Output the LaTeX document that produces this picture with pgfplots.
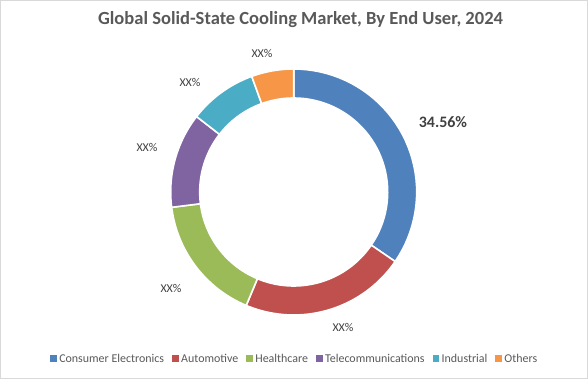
\documentclass[border=0pt]{standalone}
\usepackage{pgfplots}
\pgfplotsset{compat=1.18}
\usepackage{pgfplotstable}
\usepackage{fontspec}
\setmainfont{Carlito}
\definecolor{c0}{HTML}{4F81BD}
\definecolor{c1}{HTML}{C0504D}
\definecolor{c2}{HTML}{9BBB59}
\definecolor{c3}{HTML}{8064A2}
\definecolor{c4}{HTML}{4BACC6}
\definecolor{c5}{HTML}{F79646}
\definecolor{txt}{HTML}{595959}
\definecolor{lbl}{HTML}{404040}
\definecolor{frame}{HTML}{D9D9D9}

\pgfplotstableread[col sep=comma]{
idx,share,label
0,34.56,Consumer Electronics
1,21.75,Automotive
2,16.70,Healthcare
3,12.50,Telecommunications
4,8.95,Industrial
5,5.54,Others
}\shares

\begin{document}
\begin{tikzpicture}
\begin{axis}[
  width=588bp, height=379bp, scale only axis,
  xmin=0, xmax=588, ymin=0, ymax=379,
  hide axis, clip=false,
  legend columns=6,
  legend style={at={(axis cs:295,20)}, anchor=center, draw=none, fill=none,
    font=\fontsize{12}{14}\selectfont, text=txt,
    /tikz/every even column/.append style={column sep=5.5bp},
    nodes={inner sep=2.5bp}},
  legend image code/.code={\fill[#1,draw=none] (0bp,-3bp) rectangle (6.5bp,3.5bp);},
]
\def\cum{0}
\pgfplotsforeachungrouped \i in {0,...,5}{%
  \pgfplotstablegetelem{\i}{share}\of\shares
  \let\val\pgfplotsretval
  \pgfplotstablegetelem{\i}{label}\of\shares
  \let\lab\pgfplotsretval
  \pgfmathsetmacro\angA{90-3.6*\cum}%
  \pgfmathsetmacro\angD{-3.6*\val}%
  \edef\cmd{\noexpand\addplot[fill=c\i, draw=white, line width=1.6bp, samples at={0,...,82}]
    ({293.7+((x<=40||x>=82)?123:94)*cos((x<=40)?((\angA)+(\angD)*x/40):((x<=81)?((\angA)+(\angD)*(81-x)/40):(\angA)))},
     {187+((x<=40||x>=82)?123:94)*sin((x<=40)?((\angA)+(\angD)*x/40):((x<=81)?((\angA)+(\angD)*(81-x)/40):(\angA)))});
    \noexpand\addlegendentry{\lab}}%
  \cmd
  \pgfmathsetmacro\cum{\cum+\val}%
}
\draw[frame, line width=1bp] (axis cs:0.5,0.5) rectangle (axis cs:587.5,378.5);
\node[font=\bfseries\fontsize{18.6}{22}\selectfont, text=txt] at (axis cs:300.5,359) {Global Solid-State Cooling Market, By End User, 2024};
\node[font=\bfseries\fontsize{16}{18}\selectfont, text=lbl] at (axis cs:443,257) {34.56\%};
\begin{scope}[every node/.style={font=\fontsize{12}{14}\selectfont, text=lbl}]
\node at (axis cs:343,52) {XX\%};
\node at (axis cs:171,91) {XX\%};
\node at (axis cs:147,232) {XX\%};
\node at (axis cs:190,297) {XX\%};
\node at (axis cs:262,326) {XX\%};
\end{scope}
\end{axis}
\end{tikzpicture}
\end{document}
